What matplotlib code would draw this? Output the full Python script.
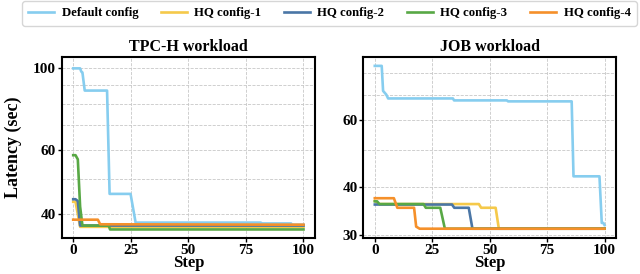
import matplotlib
matplotlib.use("Agg")
import matplotlib.pyplot as plt
from matplotlib.ticker import FixedLocator, NullFormatter

plt.rcParams['font.family'] = ['Liberation Serif', 'DejaVu Serif']
plt.rcParams['font.weight'] = 'bold'
plt.rcParams['axes.labelweight'] = 'bold'
plt.rcParams['axes.titleweight'] = 'bold'

labels = ['Default config', 'HQ config-1', 'HQ config-2', 'HQ config-3', 'HQ config-4']
colors = ['#86cdef', '#f5c94a', '#4a76a6', '#58a845', '#f5902a']

# TPC-H workload: change points (step, latency sec)
tpch_default_x = [0, 3, 3.5, 4, 5, 14.7, 15.8, 24.9, 27.1, 81.4, 82, 94.6, 95, 100]
tpch_default_y = [100, 100, 98, 97.5, 87, 87, 45.5, 45.5, 38, 38, 37.8, 37.8, 37.5, 37.5]
tpch_hq1_x = [0, 1, 3, 100]
tpch_hq1_y = [43.3, 43.3, 37.0, 37.0]
tpch_hq2_x = [0, 1, 2, 3, 100]
tpch_hq2_y = [44.0, 44.0, 43.5, 37.3, 37.3]
tpch_hq3_x = [0, 1, 2, 3, 4, 15.4, 16, 100]
tpch_hq3_y = [58, 58, 56.5, 42, 37.3, 37.3, 36.4, 36.4]
tpch_hq4_x = [0, 10.7, 11.7, 100]
tpch_hq4_y = [38.7, 38.7, 37.6, 37.5]

# JOB workload
job_default_x = [0, 3, 3.6, 5, 5.8, 34, 34.5, 57.5, 58, 85.7, 86.5, 97.8, 98.8, 99.5, 100]
job_default_y = [83.3, 83.3, 71.6, 70, 68.4, 68.4, 67.6, 67.6, 67.2, 67.2, 42.7, 42.7, 32.2, 32.2, 31.8]
job_hq1_x = [0, 2, 45.3, 46.3, 52.6, 54, 100]
job_hq1_y = [36.8, 36.1, 36.1, 35.3, 35.3, 31.1, 31.1]
job_hq2_x = [0, 33.6, 34.6, 40.9, 42.5, 100]
job_hq2_y = [36.0, 36.0, 35.3, 35.3, 31.1, 31.1]
job_hq3_x = [0, 1, 2, 21.2, 22.2, 28.5, 30.5, 100]
job_hq3_y = [36.7, 36.7, 36.1, 36.1, 35.3, 35.3, 31.1, 31.1]
job_hq4_x = [0, 8.3, 9.8, 17.1, 18, 19.5, 100]
job_hq4_y = [37.4, 37.4, 35.3, 35.3, 31.5, 31.1, 31.1]

fig = plt.figure(figsize=(6.4, 2.74), dpi=100)
ax1 = fig.add_axes([0.0964, 0.1314, 0.3958, 0.6606])
ax2 = fig.add_axes([0.5677, 0.1314, 0.3948, 0.6606])

tpch = [(tpch_default_x, tpch_default_y), (tpch_hq1_x, tpch_hq1_y), (tpch_hq2_x, tpch_hq2_y),
        (tpch_hq3_x, tpch_hq3_y), (tpch_hq4_x, tpch_hq4_y)]
job = [(job_default_x, job_default_y), (job_hq1_x, job_hq1_y), (job_hq2_x, job_hq2_y),
       (job_hq3_x, job_hq3_y), (job_hq4_x, job_hq4_y)]

handles = []
for (x, y), c, lab in zip(tpch, colors, labels):
    h, = ax1.plot(x, y, color=c, lw=1.9, label=lab)
    handles.append(h)
for (x, y), c in zip(job, colors):
    ax2.plot(x, y, color=c, lw=1.9)

def style(ax, ylim, major, minor):
    ax.set_yscale('log')
    ax.set_ylim(*ylim)
    ax.set_xlim(-5, 105)
    ax.yaxis.set_major_locator(FixedLocator(major))
    ax.yaxis.set_minor_locator(FixedLocator(minor))
    ax.yaxis.set_minor_formatter(NullFormatter())
    ax.set_yticklabels([str(v) for v in major])
    ax.set_xticks([0, 25, 50, 75, 100])
    ax.tick_params(axis='both', which='major', labelsize=11, length=3, width=1, pad=1)
    ax.tick_params(axis='y', which='minor', length=0)
    plt.setp(ax.get_xticklabels() + ax.get_yticklabels(), fontweight='bold')
    ax.grid(which='both', axis='y', color='#c8c8c8', ls='--', lw=0.6)
    ax.grid(which='major', axis='x', color='#c8c8c8', ls='--', lw=0.6)
    ax.set_axisbelow(True)
    for s in ax.spines.values():
        s.set_linewidth(1.5)
    ax.set_xlabel('Step', fontsize=12, fontweight='bold', labelpad=-1)

style(ax1, (34.5, 107.4), [40, 60, 100], [50, 70, 80, 90])
style(ax2, (29.4, 87.9), [30, 40, 60], [50, 70, 80])

ax1.set_title('TPC-H workload', fontsize=11.5, fontweight='bold', pad=4)
ax2.set_title('JOB workload', fontsize=11.5, fontweight='bold', pad=4)
ax1.set_ylabel('Latency (sec)', fontsize=13, fontweight='bold', labelpad=8)

fig.legend(handles, labels, loc='upper left', bbox_to_anchor=(22 / 640, 1 - 1 / 274, 615 / 640, 0),
           mode='expand', ncol=5, borderaxespad=0, handlelength=2.0, handletextpad=0.6,
           prop={'family': 'Liberation Serif', 'weight': 'bold', 'size': 9.2},
           frameon=True, edgecolor='#cccccc', fancybox=True, borderpad=0.5, columnspacing=1.0)

fig.savefig('out.png', dpi=100)
